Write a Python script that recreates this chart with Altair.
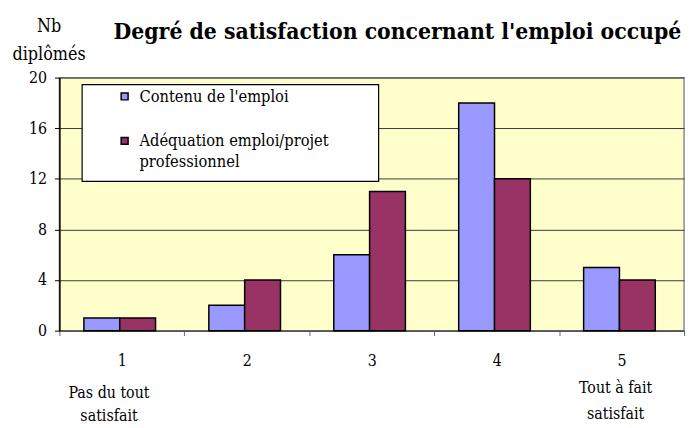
import altair as alt
import pandas as pd

categories = ["1", "2", "3", "4", "5"]
series = ["Contenu de l'emploi", "Adéquation emploi/projet professionnel"]
contenu = [1, 2, 6, 18, 5]
adequation = [1, 4, 11, 12, 4]
colors = ["#9999FF", "#993366"]
y_ticks = [0, 4, 8, 12, 16, 20]
title_text = "Degré de satisfaction concernant l'emploi occupé"

rows = []
for c, a, b in zip(categories, contenu, adequation):
    rows.append({"cat": c, "serie": series[0], "value": a})
    rows.append({"cat": c, "serie": series[1], "value": b})
df = pd.DataFrame(rows)

FONT = "DejaVu Serif Condensed"
FS = 16

xscale = alt.Scale(domain=categories, paddingInner=0, paddingOuter=0)
cscale = alt.Scale(domain=series, range=colors)

bars = alt.Chart(df).mark_bar(stroke="black", strokeWidth=1.5).encode(
    x=alt.X("cat:N", scale=xscale, sort=categories,
            axis=alt.Axis(title=None, labelAngle=0, tickBand="extent",
                          tickColor="#666", tickSize=5, domainColor="#555",
                          domainWidth=1.5, labelFont=FONT, labelFontSize=FS,
                          labelColor="black", labelPadding=17, grid=False)),
    xOffset=alt.XOffset("serie:N", sort=series,
                        scale=alt.Scale(domain=series, paddingInner=0,
                                        paddingOuter=0.744, align=0.46)),
    y=alt.Y("value:Q", scale=alt.Scale(domain=[0, 20], nice=False),
            axis=alt.Axis(values=y_ticks, grid=True, gridColor="#3a3a3a",
                          gridWidth=1, domainColor="black", domainWidth=1.5,
                          tickColor="black", tickSize=5, labelFont=FONT,
                          labelFontSize=FS, labelColor="black", labelPadding=8,
                          title=["Nb", "diplômés"], titleAngle=0,
                          titleAlign="center", titleBaseline="alphabetic",
                          titleX=-11, titleY=-47, titleLineHeight=29,
                          titleFont=FONT, titleFontSize=18,
                          titleFontWeight="normal", titleColor="black")),
    color=alt.Color("serie:N", scale=cscale, legend=None),
)

one = alt.Data(values=[{"k": 1}])

title = alt.Chart(one).mark_text(
    text=title_text, align="center", baseline="alphabetic", font=FONT,
    fontSize=23, fontWeight="bold", color="black").encode(
    x=alt.value(342), y=alt.value(-39))

box = alt.Chart(one).mark_rect(fill="white", stroke="black", strokeWidth=1.2).encode(
    x=alt.value(23), x2=alt.value(323), y=alt.value(7), y2=alt.value(105)
)

legend_layers = []
leg_pos = [(19, [20]), (64, [64, 85])]
leg_lines = [["Contenu de l'emploi"], ["Adéquation emploi/projet", "professionnel"]]
for i, (sy, tys) in enumerate(leg_pos):
    legend_layers.append(
        alt.Chart(one).mark_square(size=49, fill=colors[i], stroke="black",
                                   strokeWidth=1.5, opacity=1).encode(
            x=alt.value(66), y=alt.value(sy))
    )
    for line, ty in zip(leg_lines[i], tys):
        legend_layers.append(
            alt.Chart(one).mark_text(text=line, align="left", baseline="middle",
                                     font=FONT, fontSize=16.5, color="black").encode(
                x=alt.value(81), y=alt.value(ty))
        )

ann_cats = ["1", "5"]
ann_text = [["Pas du tout", "satisfait"], ["Tout à fait", "satisfait"]]
ann_dx = [-13, -6]
ann_y = [[319, 342], [314, 340]]
ann_layers = []
for c, lines, dx, ys in zip(ann_cats, ann_text, ann_dx, ann_y):
    for line, yy in zip(lines, ys):
        ann_layers.append(
            alt.Chart(alt.Data(values=[{"cat": c}])).mark_text(
                text=line, align="center", baseline="middle", font=FONT,
                fontSize=FS, color="black", dx=dx).encode(
                x=alt.X("cat:N", scale=xscale), y=alt.value(yy))
        )

chart = alt.layer(bars, title, box, *legend_layers, *ann_layers).properties(
    width=632, height=256,
    autosize=alt.AutoSizeParams(type="none"),
    padding={"left": 52, "top": 68, "right": 4, "bottom": 92},
).configure_view(fill="#FFFFCC", stroke="#8c8c8c", strokeWidth=1.5)

chart.save("out.html", embed_options={"renderer": "svg", "actions": False})
